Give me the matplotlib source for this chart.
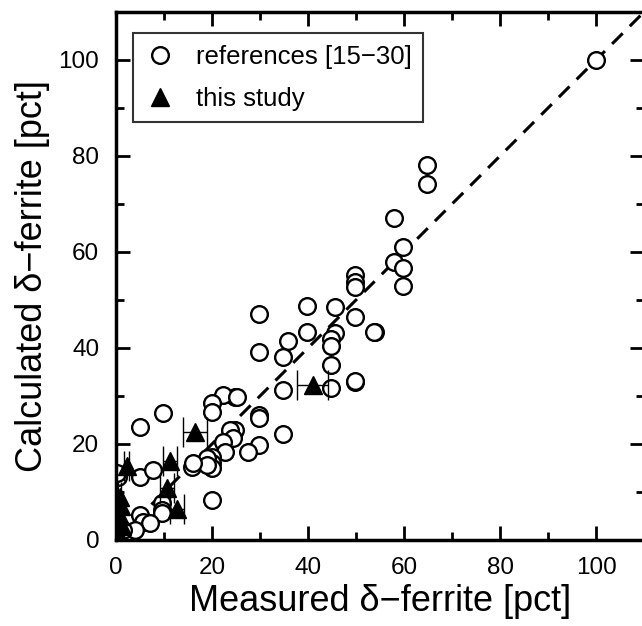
import matplotlib
matplotlib.use("Agg")
import matplotlib.pyplot as plt
import numpy as np

plt.rcParams['font.family'] = ['Liberation Sans', 'DejaVu Sans']

# measured / calculated delta-ferrite, literature data [15-30]
ref_measured = [100, 64.8, 64.8, 57.9, 59.8, 57.9, 59.8, 59.8,
                49.8, 49.8, 49.8, 49.8, 54.0, 49.8, 49.8,
                45.6, 45.6, 44.8, 44.8, 44.8, 44.8, 53.8,
                39.8, 39.8, 35.8, 34.8, 34.8, 34.8, 29.8, 29.8, 29.8, 29.8, 29.8,
                24.8, 24.8, 22.3, 25.2, 20.0, 20.0, 23.8, 24.4, 22.3, 27.5, 22.7,
                20.0, 20.0, 20.0, 15.8, 20.0, 19.0, 19.0, 16.0,
                5.0, 9.8, 5.0, 7.7, 0.4, 9.6, 9.6, 9.6, 5.0, 5.6, 7.1, 4.0, 1.5, 0.2]
ref_calculated = [100, 78.1, 74.2, 67.1, 61.0, 57.9, 56.7, 52.9,
                  55.2, 53.8, 52.7, 46.5, 43.3, 32.9, 33.1,
                  48.5, 43.1, 41.9, 40.4, 36.5, 31.7, 43.3,
                  48.8, 43.3, 41.5, 38.1, 31.3, 22.1, 47.1, 39.2, 26.0, 25.4, 19.8,
                  29.8, 22.9, 30.2, 29.8, 28.5, 26.7, 22.9, 21.3, 20.4, 18.3, 18.3,
                  17.3, 16.0, 15.0, 15.2, 8.3, 17.0, 15.6, 16.0,
                  23.5, 26.5, 13.1, 14.6, 13.1, 7.7, 6.3, 5.6, 5.2, 3.8, 3.5, 2.1, 2.1, 14.0]

# this study, with measurement error on the x value
study_measured = [41.0, 16.5, 2.2, 11.2, 10.6, 12.7, 0.8, 0.8, 1.2, 0.5, 1.0]
study_calculated = [32.3, 22.5, 15.5, 16.5, 10.8, 6.5, 9.0, 5.0, 3.0, 1.5, 7.0]
study_xerr = [3.2, 2.5, 0.6, 1.5, 1.5, 1.5, 0.3, 0.3, 0.3, 0.3, 0.3]

fig = plt.figure(figsize=(6.42, 6.26), dpi=100)
ax = fig.add_axes([0.1807, 0.1374, 0.8225, 0.8435])

ax.plot([0, 110], [0, 110], color='black', lw=2.2, dashes=(4.9, 3.3), zorder=1)

ax.plot(ref_measured, ref_calculated, 'o', ms=12, mfc='white', mec='black',
        mew=1.7, ls='none', label='references [15\u221230]', zorder=2)
ax.errorbar(study_measured, study_calculated, xerr=study_xerr, fmt='^',
            ms=13.5, color='black', ecolor='black', elinewidth=1.0,
            capsize=11, capthick=1.0, label='this study', zorder=3)

ax.set_xlim(0, 110)
ax.set_ylim(0, 110)
ax.set_xticks(np.arange(0, 101, 20))
ax.set_yticks(np.arange(0, 101, 20))
ax.set_xticks(np.arange(10, 111, 20), minor=True)
ax.set_yticks(np.arange(10, 111, 20), minor=True)
ax.tick_params(which='both', direction='in', top=True, right=True, width=2)
ax.tick_params(which='major', length=10, labelsize=17.5, pad=12)
ax.tick_params(which='minor', length=6)
for s in ax.spines.values():
    s.set_linewidth(2.5)

ax.set_xlabel('Measured \u03b4\u2212ferrite [pct]', fontsize=26, labelpad=4)
ax.set_ylabel('Calculated \u03b4\u2212ferrite [pct]', fontsize=26, labelpad=6)

handles, labels = ax.get_legend_handles_labels()
leg = ax.legend([handles[0], handles[1][0]], labels, loc='upper left',
                bbox_to_anchor=(0.032, 0.96), fontsize=18.5, frameon=True,
                fancybox=False, edgecolor='black', handletextpad=0.8,
                borderpad=0.45, labelspacing=0.7, handlelength=1.2,
                borderaxespad=0.0, markerscale=1.0)
leg.get_frame().set_linewidth(1.5)

fig.savefig('out.png', dpi=100)
